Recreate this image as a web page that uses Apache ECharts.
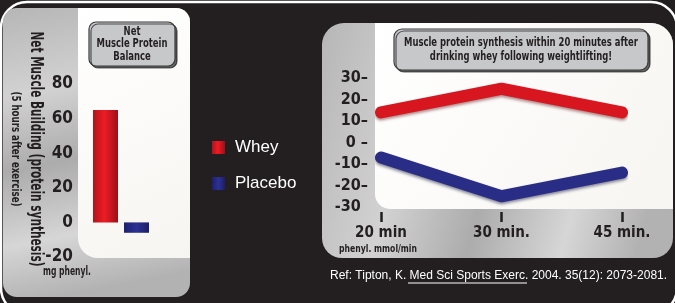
<!DOCTYPE html>
<html>
<head>
<meta charset="utf-8">
<script src="https://cdn.jsdelivr.net/npm/echarts@6/dist/echarts.min.js"></script>
<style>
  html, body { margin: 0; padding: 0; background: #231f20; }
  #main { width: 675px; height: 303px; }
</style>
</head>
<body>
<div id="main"></div>
<script>
// net balance (left)
const balanceCats = ['Whey', 'Placebo']
const wheyBalance = [65, '-']
const placeboBalance = ['-', -6]
// synthesis rate after 20 min (right)
const timeCats = ['20 min', '30 min.', '45 min.']
const wheyRate = [14, 25, 14]
const placeboRate = [-7, -25, -14]

const COND = '"Liberation Sans Narrow", "DejaVu Sans Condensed", sans-serif'
const INK = '#231f20'

// no narrow font installed, so squeeze the free texts to the width they take in the original
const ctx = document.createElement('canvas').getContext('2d')
function squeeze(text, font, width) {
  ctx.font = font
  const w = Math.max(...text.split('\n').map(t => ctx.measureText(t).width))
  return Math.min(1, width / w)
}
function label(text, x, y, size, width, extra) {
  const font = 'bold ' + size + 'px ' + COND
  return Object.assign({
    type: 'text', z: -6, x: x, y: y, scaleX: squeeze(text, font, width),
    style: { text: text, fill: INK, font: font, textAlign: 'center', textVerticalAlign: 'middle' }
  }, extra || {})
}

function metal(horizontal) {
  return new echarts.graphic.LinearGradient(0, 0, horizontal ? 1 : 0.3, horizontal ? 0.4 : 1, [
    { offset: 0, color: '#b6b6b6' },
    { offset: 0.3, color: '#d2d2d2' },
    { offset: 0.55, color: '#acacac' },
    { offset: 0.8, color: '#d6d6d6' },
    { offset: 1, color: '#b2b2b2' }
  ])
}
const paper = new echarts.graphic.LinearGradient(0, 0, 1, 1, [
  { offset: 0, color: '#ffffff' },
  { offset: 1, color: '#f7f5f1' }
])
const redBar = new echarts.graphic.LinearGradient(0, 0, 1, 0, [
  { offset: 0, color: '#b3121b' },
  { offset: 0.45, color: '#ee1c25' },
  { offset: 1, color: '#9c0f17' }
])
const blueBar = new echarts.graphic.LinearGradient(0, 0, 1, 0, [
  { offset: 0, color: '#1d2070' },
  { offset: 0.5, color: '#2e3192' },
  { offset: 1, color: '#1b1e66' }
])

const leftTitle = label('Net\nMuscle Protein\nBalance', 132, 44, 12, 71)
leftTitle.style.lineHeight = 12.5
const rightTitle = label('Muscle protein synthesis within 20 minutes after\ndrinking whey following weightlifting!', 521, 49.5, 13, 234)
rightTitle.style.lineHeight = 14

const chart = echarts.init(document.getElementById('main'))

chart.setOption({
  backgroundColor: INK,
  animation: false,
  graphic: [
    { type: 'rect', z: -10, shape: { x: 1, y: 2, width: 676, height: 312, r: 26 },
      style: { fill: 'none', stroke: '#fff', lineWidth: 2.5 } },
    // left panel
    { type: 'rect', z: -9, shape: { x: 3, y: 8, width: 187, height: 289, r: 14 }, style: { fill: metal(false) } },
    { type: 'rect', z: -8, shape: { x: 78, y: 8, width: 112, height: 250, r: [0, 14, 0, 20] }, style: { fill: paper } },
    { type: 'rect', z: -7, shape: { x: 89, y: 22, width: 86, height: 44, r: 7 },
      style: { fill: '#c7c8ca', stroke: '#3a3a3a', lineWidth: 1.2, shadowColor: 'rgba(0,0,0,0.6)', shadowOffsetX: 2, shadowOffsetY: 2 } },
    leftTitle,
    label('Net Muscle Building (protein synthesis)', 35, 149, 17, 235, { rotation: -Math.PI / 2 }),
    label('(5 hours after exercise)', 15, 149, 12.5, 115, { rotation: -Math.PI / 2 }),
    label('mg phenyl.', 67, 272, 11.5, 48),
    // right panel
    { type: 'rect', z: -9, shape: { x: 322, y: 23, width: 351, height: 235, r: [22, 22, 20, 20] }, style: { fill: metal(true) } },
    { type: 'rect', z: -8, shape: { x: 375, y: 23, width: 298, height: 186, r: [0, 22, 0, 15] }, style: { fill: paper } },
    { type: 'rect', z: -7, shape: { x: 394, y: 29, width: 254, height: 41, r: 8 },
      style: { fill: '#c7c8ca', stroke: '#3a3a3a', lineWidth: 1.2, shadowColor: 'rgba(0,0,0,0.6)', shadowOffsetX: 2, shadowOffsetY: 2 } },
    rightTitle,
    label('phenyl. mmol/min', 378, 249, 10.5, 78),
    // reference line
    { type: 'text', z: -6, x: 330, y: 276,
      style: { text: 'Ref: Tipton, K. Med Sci Sports Exerc. 2004. 35(12): 2073-2081.', fill: '#fff', font: '12px "Liberation Sans", Arial, sans-serif', textAlign: 'left', textVerticalAlign: 'middle' } },
    { type: 'line', z: -6, shape: { x1: 408, y1: 283, x2: 527, y2: 283 }, style: { stroke: '#fff', lineWidth: 1 } }
  ],
  legend: {
    orient: 'vertical',
    left: 212,
    top: 139,
    padding: 0,
    itemWidth: 13,
    itemHeight: 13,
    itemGap: 19,
    icon: 'rect',
    selectedMode: false,
    data: ['Whey', 'Placebo'],
    textStyle: { color: '#fff', fontSize: 17, fontFamily: '"Liberation Sans", Arial, sans-serif', padding: [0, 0, 0, 5] }
  },
  grid: [
    { left: 90, right: 523, top: 84, bottom: 46 },
    { left: 381, right: 53, top: 78, bottom: 96 }
  ],
  xAxis: [
    { gridIndex: 0, type: 'category', data: balanceCats, show: false },
    {
      gridIndex: 1, type: 'category', data: timeCats, boundaryGap: false, offset: 5,
      axisLine: { show: false, onZero: false },
      axisTick: { show: true, length: 10, interval: 0, lineStyle: { color: INK, width: 2.5 } },
      axisLabel: { color: INK, fontSize: 15, fontWeight: 'bold', fontFamily: COND, margin: 14, interval: 0 }
    }
  ],
  yAxis: [
    {
      gridIndex: 0, type: 'value', min: -20, max: 80, interval: 20,
      axisLine: { show: false }, axisTick: { show: false }, splitLine: { show: false },
      axisLabel: { color: INK, fontSize: 17, fontWeight: 'bold', fontFamily: COND, margin: 17 }
    },
    {
      gridIndex: 1, type: 'value', min: -30, max: 30, interval: 10,
      axisLine: { show: false }, axisTick: { show: false }, splitLine: { show: false },
      axisLabel: {
        color: INK, fontSize: 16, fontWeight: 'bold', fontFamily: COND, margin: 13,
        formatter: v => (v === -30 ? '-30\u2002' : (v === 0 ? '0 \u2013' : v + '\u2013'))
      }
    }
  ],
  series: [
    { name: 'Whey', type: 'bar', xAxisIndex: 0, yAxisIndex: 0, stack: 'b', barWidth: 25,
      data: wheyBalance, itemStyle: { color: redBar } },
    { name: 'Placebo', type: 'bar', xAxisIndex: 0, yAxisIndex: 0, stack: 'b', barWidth: 25,
      data: placeboBalance, itemStyle: { color: blueBar } },
    { name: 'Whey', type: 'line', xAxisIndex: 1, yAxisIndex: 1, data: wheyRate, symbol: 'none', clip: false,
      lineStyle: { color: '#d8161f', width: 12, cap: 'round', join: 'round', shadowColor: 'rgba(80,0,0,0.45)', shadowBlur: 3, shadowOffsetY: 2 } },
    { name: 'Placebo', type: 'line', xAxisIndex: 1, yAxisIndex: 1, data: placeboRate, symbol: 'none', clip: false,
      lineStyle: { color: '#2a2d85', width: 12, cap: 'round', join: 'round', shadowColor: 'rgba(0,0,40,0.45)', shadowBlur: 3, shadowOffsetY: 2 } }
  ]
})
</script>
</body>
</html>
